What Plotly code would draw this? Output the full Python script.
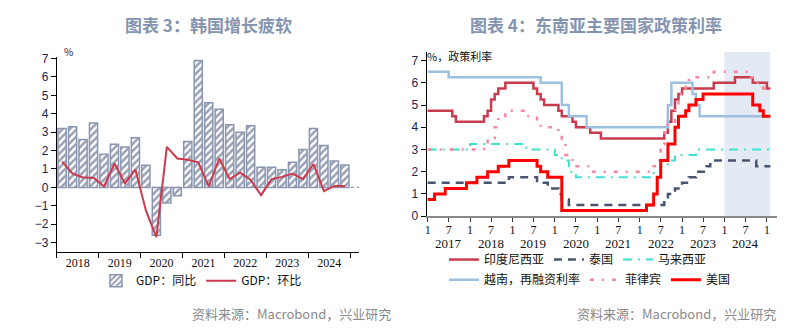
import plotly.graph_objects as go

# ---------------- Korea GDP (quarterly, 2018Q1 - 2024Q4) ----------------
quarters = [f"{y}Q{q}" for y in range(2018, 2025) for q in range(1, 5)]
gdp_yoy = [3.2, 3.3, 2.6, 3.5, 1.8, 2.35, 2.2, 2.7,
           1.2, -2.6, -0.85, -0.45, 2.5, 6.9, 4.6, 4.25,
           3.4, 3.0, 3.35, 1.1, 1.1, 0.96, 1.36, 2.06,
           3.2, 2.27, 1.43, 1.22]
gdp_qoq = [1.4, 0.75, 0.54, 0.52, 0.05, 1.3, 0.22, 0.97,
           -1.25, -2.7, 2.2, 1.57, 1.5, 1.36, 0.05, 1.57,
           0.45, 0.8, 0.4, -0.42, 0.45, 0.57, 0.75, 0.45,
           1.27, -0.2, 0.08, 0.08]
gdp_years = ["2018", "2019", "2020", "2021", "2022", "2023", "2024"]

# ---------------- Policy rates (change dates, level after change) ----------------
end_date = "2025-01-31"

idn_dates = ["2017-01-01", "2017-08-01", "2017-09-01", "2018-05-01", "2018-06-01", "2018-07-01",
             "2018-08-01", "2018-09-01", "2018-11-01", "2019-07-01", "2019-08-01", "2019-09-01",
             "2019-10-01", "2020-02-01", "2020-03-01", "2020-06-01", "2020-07-01", "2020-11-01",
             "2021-02-01", "2022-08-01", "2022-09-01", "2022-10-01", "2022-11-01", "2022-12-01",
             "2023-01-01", "2023-10-01", "2024-04-01", "2024-09-01", "2025-01-01"]
idn_rates = [4.75, 4.5, 4.25, 4.5, 4.75, 5.25, 5.5, 5.75, 6.0, 5.75, 5.5, 5.25,
             5.0, 4.75, 4.5, 4.25, 4.0, 3.75, 3.5, 3.75, 4.25, 4.75, 5.25, 5.5,
             5.75, 6.0, 6.25, 6.0, 5.75]

tha_dates = ["2017-01-01", "2018-12-01", "2019-08-01", "2019-11-01", "2020-02-01", "2020-03-01",
             "2020-05-01", "2022-08-01", "2022-09-01", "2022-11-01", "2023-01-01", "2023-03-01",
             "2023-05-01", "2023-08-01", "2023-09-01", "2024-10-01"]
tha_rates = [1.5, 1.75, 1.5, 1.25, 1.0, 0.75, 0.5, 0.75, 1.0, 1.25, 1.5, 1.75,
             2.0, 2.25, 2.5, 2.25]

mys_dates = ["2017-01-01", "2018-01-01", "2019-05-01", "2020-01-01", "2020-03-01", "2020-05-01",
             "2020-07-01", "2022-05-01", "2022-07-01", "2022-09-01", "2022-11-01", "2023-05-01"]
mys_rates = [3.0, 3.25, 3.0, 2.75, 2.5, 2.0, 1.75, 2.0, 2.25, 2.5, 2.75, 3.0]

vnm_dates = ["2017-01-01", "2017-07-01", "2019-09-01", "2020-03-01", "2020-05-01", "2020-10-01",
             "2022-09-01", "2022-10-01", "2023-04-01", "2023-05-01", "2023-06-01"]
vnm_rates = [6.5, 6.25, 6.0, 5.0, 4.5, 4.0, 5.0, 6.0, 5.5, 5.0, 4.5]

phl_dates = ["2017-01-01", "2018-05-01", "2018-06-01", "2018-08-01", "2018-09-01", "2018-11-01",
             "2019-05-01", "2019-08-01", "2019-09-01", "2020-02-01", "2020-03-01", "2020-04-01",
             "2020-06-01", "2020-11-01", "2022-05-01", "2022-06-01", "2022-07-01", "2022-08-01",
             "2022-09-01", "2022-11-01", "2022-12-01", "2023-02-01", "2023-03-01", "2023-10-01",
             "2024-08-01", "2024-10-01", "2024-12-01"]
phl_rates = [3.0, 3.25, 3.5, 4.0, 4.5, 4.75, 4.5, 4.25, 4.0, 3.75, 3.25, 2.75,
             2.25, 2.0, 2.25, 2.5, 3.25, 3.75, 4.25, 5.0, 5.5, 6.0, 6.25, 6.5,
             6.25, 6.0, 5.75]

usa_dates = ["2017-01-01", "2017-03-01", "2017-06-01", "2017-12-01", "2018-03-01", "2018-06-01",
             "2018-09-01", "2018-12-01", "2019-08-01", "2019-09-01", "2019-11-01", "2020-03-01",
             "2022-03-01", "2022-05-01", "2022-06-01", "2022-07-01", "2022-09-01", "2022-11-01",
             "2022-12-01", "2023-02-01", "2023-03-01", "2023-05-01", "2023-07-01", "2024-09-01",
             "2024-11-01", "2024-12-01"]
usa_rates = [0.75, 1.0, 1.25, 1.5, 1.75, 2.0, 2.25, 2.5, 2.25, 2.0, 1.75, 0.25,
             0.5, 1.0, 1.75, 2.5, 3.25, 4.0, 4.5, 4.75, 5.0, 5.25, 5.5, 5.0,
             4.75, 4.5]

rate_tick_dates = [f"{y}-{m:02d}-01" for y in range(2017, 2026) for m in (1, 7)][:-1]
rate_tick_text = ["1" if d.endswith("-01-01") else "7" for d in rate_tick_dates]
rate_years = ["2017", "2018", "2019", "2020", "2021", "2022", "2023", "2024"]

W, H = 809, 335
def px(xp):
    return xp / W
def py(yp):
    return 1 - yp / H

fig = go.Figure()

# ---- left panel: Korea GDP ----
qx = list(range(len(quarters)))
fig.add_trace(go.Bar(
    x=qx, y=gdp_yoy, name="GDP：同比", width=0.78, xaxis="x", yaxis="y",
    marker=dict(color="#3b4869",
                line=dict(color="#8a96b0", width=1.5),
                pattern=dict(shape="/", fgcolor="#35426a", bgcolor="white",
                             size=5, solidity=0.5)),
    legend="legend",
))
fig.add_trace(go.Scatter(
    x=qx, y=gdp_qoq, name="GDP：环比", mode="lines", xaxis="x", yaxis="y",
    line=dict(color="#cc3a4e", width=2), legend="legend",
))

# ---- right panel: policy rates ----
series = [
    ("印度尼西亚", idn_dates, idn_rates, dict(color="#c83c4e", width=2.5), "legend2"),
    ("泰国", tha_dates, tha_rates, dict(color="#485571", width=2.5, dash="8px,6px"), "legend2"),
    ("马来西亚", mys_dates, mys_rates, dict(color="#40e0d0", width=2, dash="9px,6px,2px,6px"), "legend2"),
    ("越南，再融资利率", vnm_dates, vnm_rates, dict(color="#9ec0e0", width=2.5), "legend3"),
    ("菲律宾", phl_dates, phl_rates, dict(color="#f5889c", width=2.5, dash="4px,8px,2px,8px"), "legend3"),
    ("美国", usa_dates, usa_rates, dict(color="#ff0000", width=3), "legend3"),
]
for name, d, r, ln, lg in series:
    fig.add_trace(go.Scatter(
        x=d + [end_date], y=r + [r[-1]], name=name, mode="lines",
        line=dict(shape="hv", **ln), xaxis="x2", yaxis="y2", legend=lg,
    ))

ser = "Liberation Serif"
san = "Liberation Sans"
cjk = "Noto Sans CJK SC"

fig.update_layout(
    width=W, height=H, margin=dict(l=0, r=0, t=0, b=0),
    paper_bgcolor="white", plot_bgcolor="white",
    bargap=0.2,
    xaxis=dict(domain=[px(55), px(358)], range=[-0.5, 28.36],
               showline=True, linecolor="black", linewidth=1,
               showgrid=False, zeroline=False,
               tickmode="array", tickvals=[1.5 + 4 * i for i in range(len(gdp_years))],
               ticktext=gdp_years, ticks="",
               tickfont=dict(family=ser, size=12, color="#111"),
               minor=dict(tickmode="array", tickvals=[-0.5 + 4 * i for i in range(8)],
                          ticks="outside", ticklen=5, tickcolor="black", showgrid=False),
               anchor="y"),
    yaxis=dict(domain=[py(256), py(54)], range=[-3.5, 7.08],
               showline=True, linecolor="black", linewidth=1,
               showgrid=False, zeroline=False, dtick=1, tick0=0,
               ticks="outside", ticklen=5, tickcolor="black",
               tickfont=dict(family=san, size=12, color="#1a2450"),
               anchor="x"),
    xaxis2=dict(domain=[px(425.7), px(776.7)], type="date",
                range=["2016-12-23", "2025-03-27"],
                showline=True, linecolor="#888", linewidth=2,
                showgrid=False, zeroline=False,
                tickmode="array", tickvals=rate_tick_dates, ticktext=rate_tick_text,
                ticks="outside", ticklen=4, tickcolor="#333", ticklabelstandoff=-3,
                tickfont=dict(family=ser, size=12, color="#111"),
                anchor="y2"),
    yaxis2=dict(domain=[py(219), py(48.5)], range=[0, 7.4],
                showline=True, linecolor="black", linewidth=1,
                showgrid=False, zeroline=False, dtick=1, tick0=0,
                ticks="outside", ticklen=5, tickcolor="black",
                tickfont=dict(family=san, size=12, color="#1a2450"),
                anchor="x2"),
    legend=dict(orientation="h", x=px(200), xanchor="center", y=py(286), yanchor="middle",
                font=dict(family=cjk, size=12, color="#111"), bgcolor="rgba(0,0,0,0)",
                itemwidth=30),
    legend2=dict(orientation="h", x=px(443), xanchor="left", y=py(264), yanchor="middle",
                 font=dict(family=cjk, size=12, color="#111"), bgcolor="rgba(0,0,0,0)",
                 itemwidth=30),
    legend3=dict(orientation="h", x=px(443), xanchor="left", y=py(285), yanchor="middle",
                 font=dict(family=cjk, size=12, color="#111"), bgcolor="rgba(0,0,0,0)",
                 itemwidth=30),
    showlegend=True,
)

# shaded 2024 window and dotted zero line
fig.add_shape(type="rect", xref="x2", yref="y2 domain", x0="2024-01-01", x1="2025-01-29",
              y0=0, y1=1, fillcolor="#e4eaf4", line=dict(width=0), layer="below")
fig.add_shape(type="line", xref="x domain", yref="y", x0=0, x1=1, y0=0, y1=0,
              line=dict(color="#999", width=1.2, dash="dot"), layer="below")

# titles, units, sources
ann = [
    dict(text="<b>图表 3：韩国增长疲软</b>", x=px(207), y=py(20), size=17, color="#8494b0"),
    dict(text="<b>图表 4：东南亚主要国家政策利率</b>", x=px(595), y=py(20), size=17, color="#8494b0"),
    dict(text="资料来源：Macrobond，兴业研究", x=px(392), y=py(320), size=13, color="#8a8a8a", xanchor="right"),
    dict(text="资料来源：Macrobond，兴业研究", x=px(778), y=py(320), size=13, color="#8a8a8a", xanchor="right"),
    dict(text="%", x=px(60), y=py(48), size=10, color="#1a2450", xanchor="left"),
    dict(text="%，政策利率", x=px(424), y=py(53), size=11, color="#111", xanchor="left"),
]
for a in ann:
    fig.add_annotation(text=a["text"], xref="paper", yref="paper", x=a["x"], y=a["y"],
                       xanchor=a.get("xanchor", "center"), yanchor="middle", showarrow=False,
                       font=dict(family=cjk, size=a["size"], color=a["color"]))

for yr in rate_years:
    fig.add_annotation(text=yr, xref="x2", yref="paper", x=f"{yr}-07-01", y=py(247),
                       xanchor="center", yanchor="middle", showarrow=False,
                       font=dict(family=ser, size=13, color="#111"))

fig.write_html("out.html")
